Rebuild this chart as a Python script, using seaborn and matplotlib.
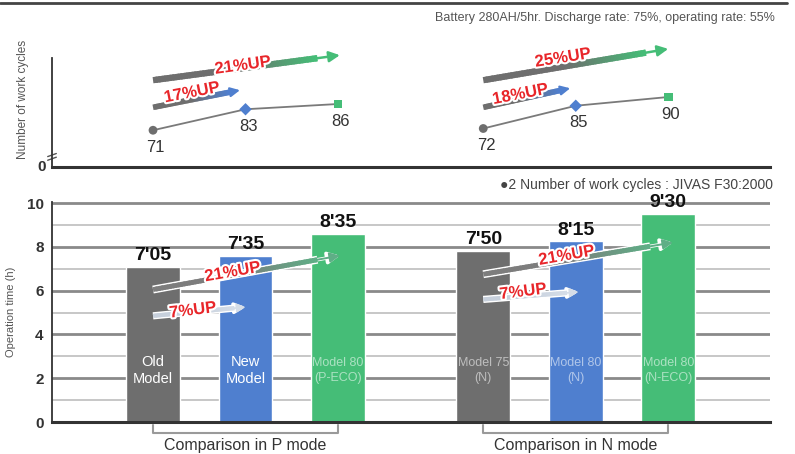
import numpy as np
import pandas as pd
import matplotlib
matplotlib.use("Agg")
import matplotlib.pyplot as plt
import matplotlib.patheffects as pe
from matplotlib.collections import LineCollection
import matplotlib.colors as mcolors
import seaborn as sns

# ---------------- data ----------------
models = ["Old\nModel", "New\nModel", "Model 80\n(P-ECO)",
          "Model 75\n(N)", "Model 80\n(N)", "Model 80\n(N-ECO)"]
modes = ["P", "P", "P", "N", "N", "N"]
hours = [7 + 5 / 60, 7 + 35 / 60, 8 + 35 / 60, 7 + 50 / 60, 8 + 15 / 60, 9 + 30 / 60]
time_labels = ["7'05", "7'35", "8'35", "7'50", "8'15", "9'30"]
work_cycles = [71, 83, 86, 72, 85, 90]
cycle_up_small = ["17%UP", "18%UP"]
cycle_up_big = ["21%UP", "25%UP"]
time_up_small = ["7%UP", "7%UP"]
time_up_big = ["21%UP", "21%UP"]
group_labels = ["Comparison in P mode", "Comparison in N mode"]
note_top = "Battery 280AH/5hr. Discharge rate: 75%, operating rate: 55%"
note_mid = "●2 Number of work cycles : JIVAS F30:2000"
ylabel_top = "Number of work cycles"
ylabel_bottom = "Operation time (h)"

# ---------------- style / layout ----------------
GRAY, BLUE, GREEN = "#6e6e6e", "#4f7fcf", "#45bd77"
colors = [GRAY, BLUE, GREEN, GRAY, BLUE, GREEN]
markers = ["o", "D", "s", "o", "D", "s"]
x_pos = [0, 1, 2, 3.57, 4.57, 5.57]
RED = "#e8262a"

sns.set_theme(style="white")
plt.rcParams["font.family"] = ["Liberation Sans", "DejaVu Sans"]

df = pd.DataFrame({"model": models, "mode": modes, "pos": x_pos,
                   "hours": hours, "cycles": work_cycles})

W, H = 795, 454
fig = plt.figure(figsize=(W / 100, H / 100), dpi=100)

def ax_rect(left, top, right, bottom):
    return [left / W, 1 - bottom / H, (right - left) / W, (bottom - top) / H]

XL = (-1.092, 6.67)
ax_top = fig.add_axes(ax_rect(52, 44.5, 770, 167))
ax_bot = fig.add_axes(ax_rect(52, 202, 770, 422))

# ---------- helpers ----------
def grad_arrow(ax, x0, y0, x1, y1, c0, c1, lw, ms, frac=0.88, outline=None, zorder=4):
    xm, ym = x0 + (x1 - x0) * 0.8, y0 + (y1 - y0) * 0.8
    if outline:
        ax.plot([x0, x0 + (x1 - x0) * frac], [y0, y0 + (y1 - y0) * frac],
                color=outline, lw=lw + 2.2, solid_capstyle="butt", zorder=zorder - 0.1,
                clip_on=False)
        ax.annotate("", xy=(x1, y1), xytext=(xm, ym),
                    arrowprops=dict(arrowstyle="-|>", color=outline, lw=2.5,
                                    mutation_scale=ms + 2, shrinkA=0, shrinkB=0),
                    annotation_clip=False, zorder=zorder - 0.1)
    ax.annotate("", xy=(x1, y1), xytext=(xm, ym),
                arrowprops=dict(arrowstyle="-|>", color=c1, lw=lw * 0.4,
                                mutation_scale=ms, shrinkA=0, shrinkB=0),
                annotation_clip=False, zorder=zorder)
    n = 60
    t = np.linspace(0, frac, n + 1)
    xs = x0 + (x1 - x0) * t
    ys = y0 + (y1 - y0) * t
    ext = 1.8  # overlap segments to avoid seams
    segs = []
    for i in range(n):
        xe = xs[i] + (xs[i + 1] - xs[i]) * ext if i < n - 1 else xs[i + 1]
        ye = ys[i] + (ys[i + 1] - ys[i]) * ext if i < n - 1 else ys[i + 1]
        segs.append([(xs[i], ys[i]), (xe, ye)])
    cm = mcolors.LinearSegmentedColormap.from_list("g", [c0, c0, c1])
    cols = [cm(v) for v in np.linspace(0, 1, n)]
    lc = LineCollection(segs, colors=cols, linewidths=lw, capstyle="butt",
                        zorder=zorder, clip_on=False, antialiaseds=True)
    ax.add_collection(lc)

def up_label(ax, x, y, s, rot, size=12):
    ax.text(x, y, s, color=RED, fontsize=size, fontweight="bold", rotation=rot,
            ha="center", va="center", rotation_mode="anchor", zorder=6,
            path_effects=[pe.withStroke(linewidth=3, foreground="white")])

# ---------------- top panel ----------------
ax = ax_top
for m in ["P", "N"]:
    sub = df[df["mode"] == m]
    sns.lineplot(data=sub, x="pos", y="cycles", color="#7a7a7a", lw=1.3,
                 estimator=None, ax=ax, legend=False, zorder=3)
sns.scatterplot(data=df, x="pos", y="cycles", hue="model", style="model",
                palette=dict(zip(models, colors)), markers=dict(zip(models, markers)),
                s=40, edgecolor="none", ax=ax, legend=False, zorder=4)
for xp, v in zip(x_pos, work_cycles):
    ax.annotate(str(v), (xp, v), xytext=(2, -7), textcoords="offset points",
                ha="center", va="top", fontsize=12, color="#333333")

# arrows (top)
grad_arrow(ax, 0.0, 99.6, 2.02, 113.9, GRAY, GREEN, 4.5, 16)
grad_arrow(ax, 0.0, 84.1, 0.94, 93.9, GRAY, BLUE, 4.0, 14)
grad_arrow(ax, 3.57, 99.6, 5.57, 117.5, GRAY, GREEN, 4.5, 16)
grad_arrow(ax, 3.57, 84.1, 4.51, 95.0, GRAY, BLUE, 4.0, 14)
up_label(ax, 0.97, 108.0, cycle_up_big[0], 8)
up_label(ax, 0.42, 92.5, cycle_up_small[0], 11)
up_label(ax, 4.43, 112.3, cycle_up_big[1], 9)
up_label(ax, 3.97, 91.5, cycle_up_small[1], 11)

ax.set_xlim(*XL)
ax.set_ylim(50, 120)
ax.set_xticks([])
ax.set_yticks([])
ax.set_xlabel("")
ax.set_ylabel("")
for s in ["top", "right"]:
    ax.spines[s].set_visible(False)
ax.spines["left"].set_bounds(50, 112.3)
ax.spines["left"].set_color("#333333")
ax.spines["left"].set_linewidth(1.3)
ax.spines["bottom"].set_color("#333333")
ax.spines["bottom"].set_linewidth(2.2)
ax.patch.set_alpha(0)
ax.text(-0.008, 0.0, "0", transform=ax.transAxes, ha="right", va="center",
        fontsize=11, fontweight="bold", color="#333333")
# break mark
ax.plot([-0.006, 0.006], [0.085, 0.11], transform=ax.transAxes, color="#555555",
        lw=1, clip_on=False)
ax.plot([-0.006, 0.006], [0.055, 0.08], transform=ax.transAxes, color="#555555",
        lw=1, clip_on=False)
ax.text(-0.04, 0.55, ylabel_top, transform=ax.transAxes, rotation=90, ha="center",
        va="center", fontsize=8.5, color="#555555")

# ---------------- bottom panel ----------------
ax = ax_bot
for yv in range(1, 11):
    even = yv % 2 == 0
    ax.axhline(yv, color="#8a8a8a" if even else "#bdbdbd", lw=2.0 if even else 1.2,
               zorder=0)
sns.barplot(data=df, x="pos", y="hours", hue="model",
            palette=dict(zip(models, colors)), native_scale=True, width=0.58,
            dodge=False, saturation=1, legend=False, ax=ax, zorder=2)
for xp, h, lab in zip(x_pos, hours, time_labels):
    ax.text(xp, h + 0.12, lab, ha="center", va="bottom", fontsize=14,
            fontweight="bold", color="#111111", zorder=5)
for i, (xp, lab) in enumerate(zip(x_pos, models)):
    bright = i in (0, 1)
    ax.text(xp, 2.35, lab, ha="center", va="center", fontsize=10.5 if bright else 9,
            color="white", alpha=1.0 if bright else 0.55, linespacing=1.35, zorder=5)

# arrows (bottom)
grad_arrow(ax, 0.0, 6.05, 2.02, 7.6, "#7d7d7d", "#5fae86", 3.5, 15, outline="white")
grad_arrow(ax, 0.0, 4.85, 1.0, 5.25, "#c7d0dc", "#d5dde8", 3.0, 13, outline="white")
grad_arrow(ax, 3.57, 6.75, 5.62, 8.2, "#7d7d7d", "#5fae86", 3.5, 15, outline="white")
grad_arrow(ax, 3.57, 5.6, 4.6, 5.94, "#c7d0dc", "#d5dde8", 3.0, 13, outline="white")
up_label(ax, 0.86, 6.85, time_up_big[0], 10)
up_label(ax, 0.43, 5.1, time_up_small[0], 7)
up_label(ax, 4.47, 7.6, time_up_big[1], 10)
up_label(ax, 4.0, 5.95, time_up_small[1], 7)

ax.set_xlim(*XL)
ax.set_ylim(0, 10.05)
ax.set_yticks(range(0, 11, 2))
ax.set_yticklabels([str(v) for v in range(0, 11, 2)], fontsize=11, fontweight="bold",
                   color="#333333")
ax.tick_params(axis="y", length=0, pad=6)
ax.set_xticks([])
ax.set_xlabel("")
ax.set_ylabel(ylabel_bottom, fontsize=8, color="#555555", labelpad=8)
for s in ["top", "right"]:
    ax.spines[s].set_visible(False)
ax.spines["left"].set_color("#333333")
ax.spines["left"].set_linewidth(1.3)
ax.spines["bottom"].set_color("#333333")
ax.spines["bottom"].set_linewidth(2.2)

# group brackets
trans = ax.get_xaxis_transform()
for (x0, x1), lab in zip([(x_pos[0], x_pos[2]), (x_pos[3], x_pos[5])], group_labels):
    ax.plot([x0, x0, x1, x1], [-0.015, -0.05, -0.05, -0.015], transform=trans,
            color="#9a9a9a", lw=1.5, clip_on=False)
    ax.text((x0 + x1) / 2, -0.105, lab, transform=trans, ha="center", va="center",
            fontsize=11.5, color="#333333")

# ---------------- figure texts ----------------
fig.add_artist(plt.Line2D([0, 787 / W], [1 - 3 / H, 1 - 3 / H], color="#444444", lw=2))
fig.text(775 / W, 1 - 18 / H, note_top, ha="right", va="center", fontsize=9,
         color="#555555")
fig.text(773 / W, 1 - 185 / H, note_mid, ha="right", va="center", fontsize=10,
         color="#444444")

fig.savefig("out.png", dpi=100)
